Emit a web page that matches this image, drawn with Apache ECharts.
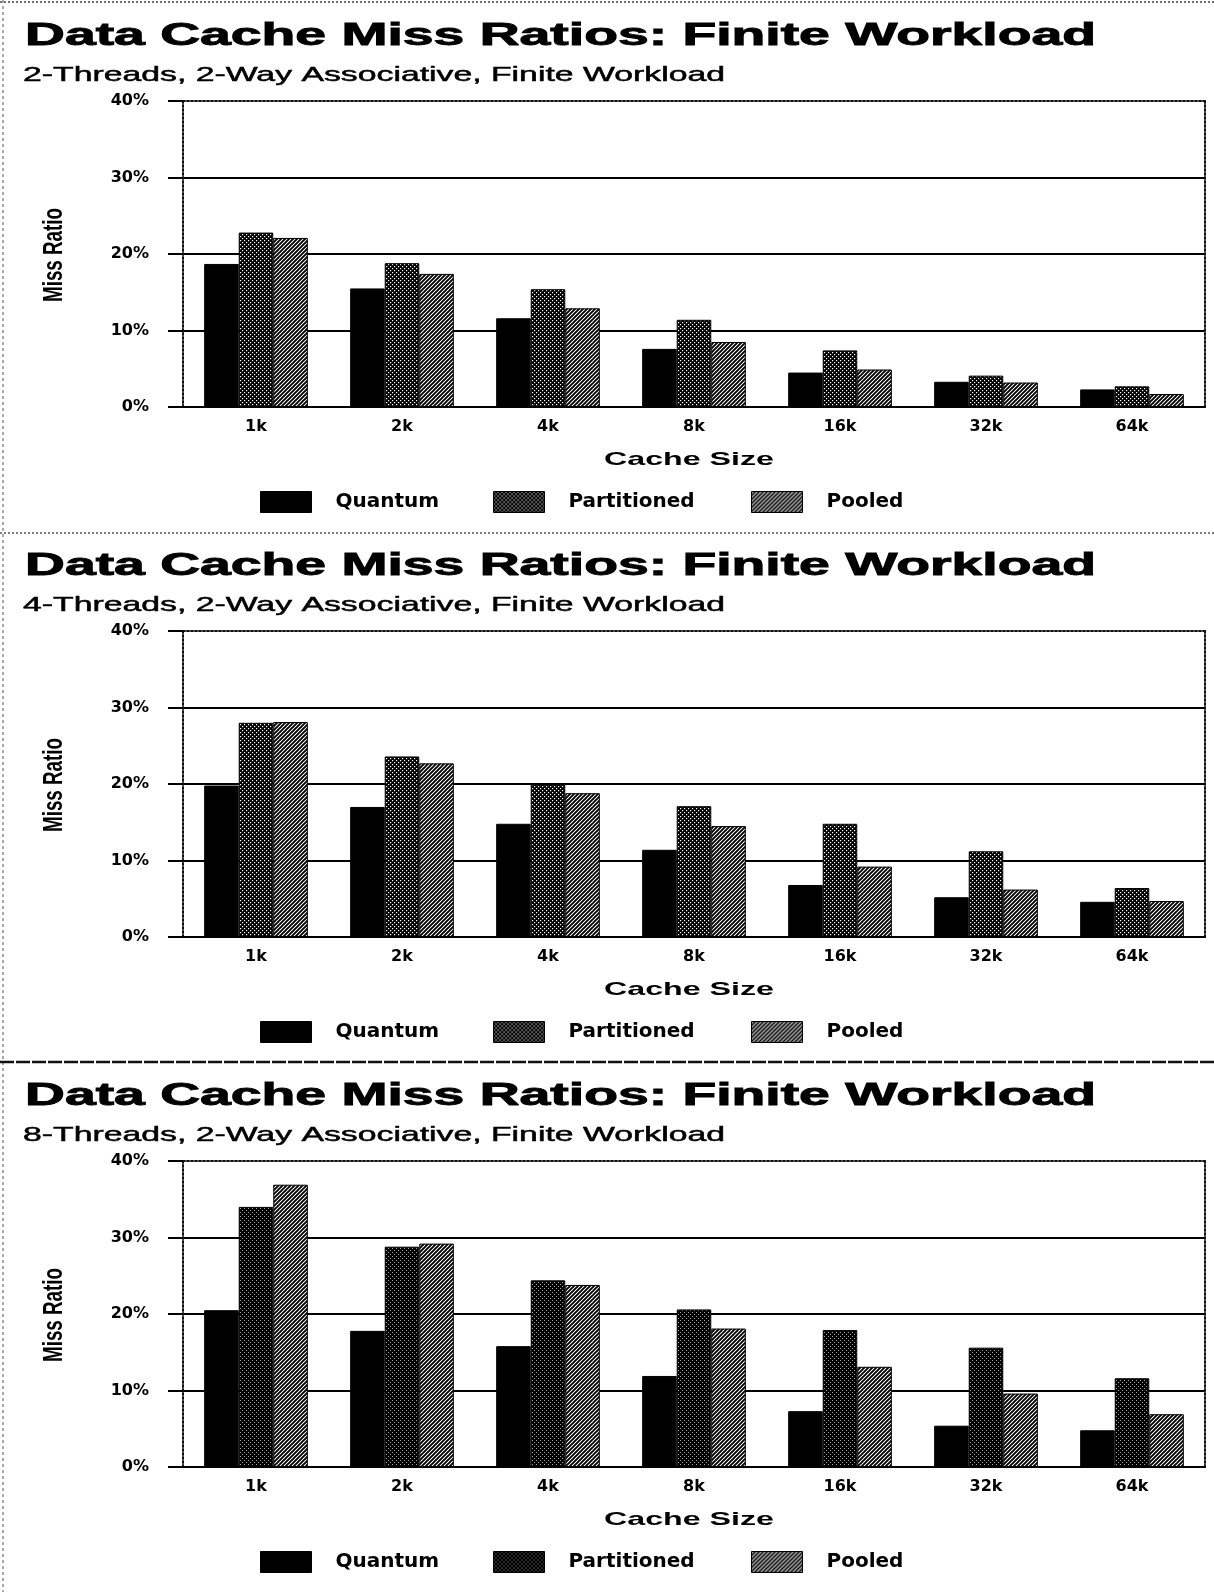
<!DOCTYPE html>
<html>
<head>
<meta charset="utf-8">
<script src="https://cdn.jsdelivr.net/npm/echarts@6/dist/echarts.min.js"></script>
<style>
  html, body { margin: 0; padding: 0; background: #fff; }
  #chart { width: 1214px; height: 1592px; }
</style>
</head>
<body>
<div id="chart"></div>
<script>
// ---- data -------------------------------------------------------------
const chartTitle = 'Data Cache Miss Ratios: Finite Workload';
const panelSubtitles = [
  '2-Threads, 2-Way Associative, Finite Workload',
  '4-Threads, 2-Way Associative, Finite Workload',
  '8-Threads, 2-Way Associative, Finite Workload'
];
const seriesNames = ['Quantum', 'Partitioned', 'Pooled'];
const cacheSizes = ['1k', '2k', '4k', '8k', '16k', '32k', '64k'];
const yTickValues = [0, 10, 20, 30, 40];   // percent
const yAxisTitle = 'Miss Ratio';
const xAxisTitle = 'Cache Size';

// miss ratio, percent
const quantum2T     = [18.7, 15.5, 11.6, 7.6, 4.5, 3.3, 2.3];
const partitioned2T = [22.8, 18.8, 15.4, 11.4, 7.4, 4.1, 2.7];
const pooled2T      = [22.1, 17.4, 12.9, 8.5, 4.9, 3.2, 1.7];

const quantum4T     = [19.8, 17.0, 14.8, 11.4, 6.8, 5.2, 4.6];
const partitioned4T = [28.0, 23.6, 20.0, 17.1, 14.8, 11.2, 6.4];
const pooled4T      = [28.1, 22.7, 18.8, 14.5, 9.2, 6.2, 4.7];

const quantum8T     = [20.5, 17.8, 15.8, 11.9, 7.3, 5.4, 4.8];
const partitioned8T = [34.0, 28.8, 24.4, 20.6, 17.9, 15.6, 11.6];
const pooled8T      = [36.9, 29.2, 23.8, 18.1, 13.1, 9.6, 6.9];

const panelData = [
  [quantum2T, partitioned2T, pooled2T],
  [quantum4T, partitioned4T, pooled4T],
  [quantum8T, partitioned8T, pooled8T]
];

// ---- fill patterns ----------------------------------------------------
function makeTile(draw) {
  const c = document.createElement('canvas');
  c.width = 4; c.height = 4;
  draw(c.getContext('2d'));
  return c;
}
const stippleTile = makeTile(g => {
  g.fillStyle = '#000'; g.fillRect(0, 0, 4, 4);
  g.fillStyle = '#fff'; g.fillRect(0, 0, 1.2, 1.2); g.fillRect(2, 2, 1.2, 1.2);
});
const darkStippleTile = makeTile(g => {
  g.fillStyle = '#000'; g.fillRect(0, 0, 4, 4);
  g.fillStyle = '#fff'; g.fillRect(0, 0, 0.8, 0.8); g.fillRect(2, 2, 0.8, 0.8);
});
const hatchTile = makeTile(g => {
  g.fillStyle = '#fff'; g.fillRect(0, 0, 4, 4);
  g.strokeStyle = '#000'; g.lineWidth = 1.9;
  g.beginPath();
  g.moveTo(-1, 5); g.lineTo(5, -1);
  g.moveTo(-1, 1); g.lineTo(1, -1);
  g.moveTo(3, 5); g.lineTo(5, 3);
  g.stroke();
});
const pattern = tile => ({ image: tile, repeat: 'repeat' });
const panelFills = [
  ['#000', pattern(stippleTile), pattern(hatchTile)],
  ['#000', pattern(stippleTile), pattern(hatchTile)],
  ['#000', pattern(darkStippleTile), pattern(hatchTile)]
];

// ---- layout -----------------------------------------------------------
const PANEL_STEP = 530;
const PLOT_LEFT = 183, PLOT_WIDTH = 1022, PLOT_TOP = 101, PLOT_HEIGHT = 306;
const LEGEND_X = [260, 493, 751];

const measureCtx = document.createElement('canvas').getContext('2d');
function fittedText(str, x, y, font, width, extra) {
  measureCtx.font = font;
  const w = measureCtx.measureText(str).width;
  return Object.assign({
    type: 'text', x: x, y: y, scaleX: width / w, silent: true,
    style: Object.assign({
      text: str, font: font, fill: '#000',
      align: 'left', verticalAlign: 'middle',
      textAlign: 'left', textVerticalAlign: 'middle'
    }, (extra && extra.style) || {})
  }, (extra && extra.el) || {});
}

const labelFont = { fontFamily: 'DejaVu Sans', fontWeight: 'bold', fontSize: 16, color: '#000' };
const dotted = { color: '#111', width: 2, type: [2, 2] };

const grids = [], xAxes = [], yAxes = [], series = [], legends = [], graphics = [];

for (let k = 0; k < 3; k++) {
  const oy = k * PANEL_STEP;
  grids.push({ left: PLOT_LEFT, top: PLOT_TOP + oy, width: PLOT_WIDTH, height: PLOT_HEIGHT, containLabel: false });

  // bottom category axis with labels
  xAxes.push({
    type: 'category', gridIndex: k, data: cacheSizes, position: 'bottom',
    axisLine: { onZero: false, lineStyle: { color: '#000', width: 2 } },
    axisTick: { show: false },
    axisLabel: Object.assign({ margin: 12 }, labelFont),
    z: 3
  });
  // top frame edge
  xAxes.push({
    type: 'category', gridIndex: k, data: cacheSizes, position: 'top',
    axisLine: { onZero: false, lineStyle: dotted }, axisTick: { show: false }, axisLabel: { show: false }
  });

  yAxes.push({
    type: 'value', gridIndex: k, position: 'left',
    min: yTickValues[0], max: yTickValues[yTickValues.length - 1],
    interval: yTickValues[1] - yTickValues[0],
    axisLine: { show: true, onZero: false, lineStyle: dotted },
    axisTick: { show: true, inside: false, length: 15, lineStyle: { color: '#000', width: 2 } },
    axisLabel: Object.assign({ margin: 34, formatter: v => v + '%' }, labelFont),
    splitLine: {
      show: true, showMaxLine: false,
      lineStyle: { color: ['#000', '#000', '#000', '#000', 'rgba(0,0,0,0)'], width: 2 }
    }
  });
  // right frame edge
  yAxes.push({
    type: 'value', gridIndex: k, position: 'right',
    min: yTickValues[0], max: yTickValues[yTickValues.length - 1],
    interval: yTickValues[1] - yTickValues[0],
    axisLine: { show: true, onZero: false, lineStyle: dotted },
    axisTick: { show: false }, axisLabel: { show: false }, splitLine: { show: false }
  });

  seriesNames.forEach((name, i) => {
    series.push({
      type: 'bar', name: name,
      xAxisIndex: 2 * k, yAxisIndex: 2 * k,
      data: panelData[k][i],
      barGap: '0%', barCategoryGap: '29%',
      itemStyle: { color: panelFills[k][i], borderColor: '#000', borderWidth: 1 },
      emphasis: { disabled: true }
    });
    legends.push({
      data: [{ name: name, itemStyle: { color: panelFills[k][i], borderColor: '#000', borderWidth: 1 } }],
      left: LEGEND_X[i], top: 491 + oy, padding: 0,
      icon: 'rect', itemWidth: 51, itemHeight: 21,
      textStyle: { fontFamily: 'DejaVu Sans', fontWeight: 'bold', fontSize: 20, color: '#000', padding: [0, 0, 0, 19] }
    });
  });

  graphics.push(fittedText(chartTitle, 25, 36.5 + oy, 'bold 31px "Liberation Sans"', 1071,
    { style: { stroke: '#000', lineWidth: 0.9 } }));
  graphics.push(fittedText(panelSubtitles[k], 23, 75.5 + oy, '21px "Liberation Sans"', 702,
    { style: { stroke: '#000', lineWidth: 0.5 } }));
  graphics.push(fittedText(yAxisTitle, 54, 255 + oy, 'bold 28px "Liberation Sans Narrow", "Liberation Sans"', 94,
    { style: { align: 'center', textAlign: 'center' }, el: { rotation: Math.PI / 2 } }));
  graphics.push(fittedText(xAxisTitle, 689, 460 + oy, 'bold 19px "Liberation Sans"', 170,
    { style: { align: 'center', textAlign: 'center' } }));
}

// page frame rules
graphics.push(
  { type: 'line', silent: true, shape: { x1: 3, y1: 0, x2: 3, y2: 1592 }, style: { stroke: '#555', lineWidth: 1, lineDash: [3, 3] } },
  { type: 'line', silent: true, shape: { x1: 0, y1: 2, x2: 1214, y2: 2 }, style: { stroke: '#444', lineWidth: 1.5, lineDash: [2, 2] } },
  { type: 'line', silent: true, shape: { x1: 0, y1: 533, x2: 1214, y2: 533 }, style: { stroke: '#555', lineWidth: 1.5, lineDash: [2, 2] } },
  { type: 'line', silent: true, shape: { x1: 0, y1: 1062, x2: 1214, y2: 1062 }, style: { stroke: '#111', lineWidth: 2.5, lineDash: [14, 2] } }
);

const chart = echarts.init(document.getElementById('chart'), null, { renderer: 'canvas' });
chart.setOption({
  animation: false,
  backgroundColor: '#fff',
  grid: grids,
  xAxis: xAxes,
  yAxis: yAxes,
  legend: legends,
  series: series,
  graphic: graphics
});
</script>
</body>
</html>
